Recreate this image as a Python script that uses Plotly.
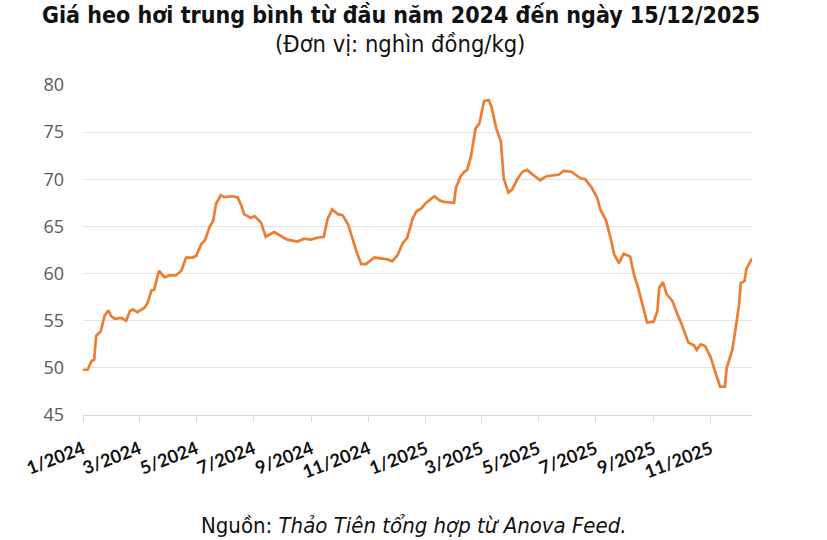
import plotly.graph_objects as go

dates = [
    "2024-01-01", "2024-01-06", "2024-01-10", "2024-01-13", "2024-01-15", "2024-01-20",
    "2024-01-24", "2024-01-28", "2024-01-31", "2024-02-04", "2024-02-11", "2024-02-16",
    "2024-02-20", "2024-02-23", "2024-02-28", "2024-03-07", "2024-03-10", "2024-03-14",
    "2024-03-17", "2024-03-22", "2024-03-28", "2024-04-02", "2024-04-09", "2024-04-15",
    "2024-04-20", "2024-04-27", "2024-05-01", "2024-05-06", "2024-05-10", "2024-05-15",
    "2024-05-19", "2024-05-22", "2024-05-27", "2024-05-31", "2024-06-07", "2024-06-14",
    "2024-06-18", "2024-06-21", "2024-06-28", "2024-07-02", "2024-07-09", "2024-07-14",
    "2024-07-23", "2024-07-30", "2024-08-06", "2024-08-17", "2024-08-24", "2024-08-31",
    "2024-09-07", "2024-09-14", "2024-09-18", "2024-09-23", "2024-09-29", "2024-10-04",
    "2024-10-10", "2024-10-15", "2024-10-19", "2024-10-24", "2024-10-29", "2024-11-07",
    "2024-11-14", "2024-11-21", "2024-11-26", "2024-12-02", "2024-12-07", "2024-12-12",
    "2024-12-18", "2024-12-22", "2024-12-27", "2025-01-01", "2025-01-10", "2025-01-15",
    "2025-01-20", "2025-01-31", "2025-02-02", "2025-02-07", "2025-02-11", "2025-02-14",
    "2025-02-18", "2025-02-23", "2025-02-27", "2025-03-04", "2025-03-09", "2025-03-12",
    "2025-03-17", "2025-03-22", "2025-03-25", "2025-03-30", "2025-04-03", "2025-04-09",
    "2025-04-14", "2025-04-19", "2025-04-25", "2025-05-03", "2025-05-09", "2025-05-23",
    "2025-05-28", "2025-06-05", "2025-06-15", "2025-06-20", "2025-06-27", "2025-07-03",
    "2025-07-06", "2025-07-12", "2025-07-17", "2025-07-21", "2025-07-26", "2025-07-31",
    "2025-08-07", "2025-08-11", "2025-08-16", "2025-08-21", "2025-08-25", "2025-09-01",
    "2025-09-05", "2025-09-07", "2025-09-11", "2025-09-15", "2025-09-21", "2025-09-26",
    "2025-10-01", "2025-10-08", "2025-10-14", "2025-10-17", "2025-10-21", "2025-10-26",
    "2025-11-01", "2025-11-06", "2025-11-11", "2025-11-16", "2025-11-18", "2025-11-24",
    "2025-11-27", "2025-12-01", "2025-12-03", "2025-12-07", "2025-12-09", "2025-12-15",
]

prices = [
    49.8, 49.8, 50.7, 50.9, 53.4, 53.9,
    55.5, 56.1, 55.5, 55.2, 55.3, 55.0,
    56.0, 56.2, 55.9, 56.4, 56.9, 58.2,
    58.3, 60.3, 59.6, 59.8, 59.8, 60.3,
    61.7, 61.7, 61.9, 63.1, 63.5, 64.9,
    65.6, 67.4, 68.3, 68.1, 68.2, 68.1,
    67.2, 66.3, 65.9, 66.1, 65.4, 63.9,
    64.4, 64.0, 63.6, 63.4, 63.7, 63.6,
    63.8, 63.9, 65.8, 66.8, 66.3, 66.2,
    65.2, 63.6, 62.3, 61.0, 61.0, 61.7,
    61.6, 61.5, 61.3, 62.0, 63.2, 63.8,
    65.9, 66.6, 66.9, 67.5, 68.2, 67.8,
    67.6, 67.5, 69.1, 70.3, 70.8, 71.0,
    72.4, 75.4, 75.9, 78.3, 78.4, 77.7,
    75.4, 74.0, 70.1, 68.6, 68.9, 70.1,
    70.8, 71.0, 70.5, 69.9, 70.3, 70.5,
    70.9, 70.8, 70.1, 70.0, 69.1, 68.0,
    66.8, 65.7, 63.8, 62.0, 61.1, 62.1,
    61.8, 59.9, 58.3, 56.4, 54.8, 54.9,
    56.0, 58.5, 59.1, 57.8, 57.1, 55.8,
    54.6, 52.7, 52.4, 51.9, 52.5, 52.3,
    51.1, 49.5, 48.0, 48.0, 50.0, 51.9,
    53.7, 56.5, 59.0, 59.2, 60.5, 61.6,
]

tick_dates = [
    "2024-01-01", "2024-03-01", "2024-05-01", "2024-07-01", "2024-09-01", "2024-11-01",
    "2025-01-01", "2025-03-01", "2025-05-01", "2025-07-01", "2025-09-01", "2025-11-01",
]
tick_labels = [
    "1/2024", "3/2024", "5/2024", "7/2024", "9/2024", "11/2024",
    "1/2025", "3/2025", "5/2025", "7/2025", "9/2025", "11/2025",
]
y_ticks = [45, 50, 55, 60, 65, 70, 75, 80]

title_text = "Giá heo hơi trung bình từ đầu năm 2024 đến ngày 15/12/2025"
subtitle_text = "(Đơn vị: nghìn đồng/kg)"
source_text = "Nguồn: <i>Thảo Tiên tổng hợp từ Anova Feed.</i>"

W, H = 827, 540
PL, PT, PW, PH = 82.7, 85, 669, 330

def px_x(x):
    return (x - PL) / PW

def px_y(y):
    return (PT + PH - y) / PH

fig = go.Figure()
fig.add_trace(go.Scatter(
    x=dates, y=prices, mode="lines",
    line=dict(color="#ED7D31", width=2.7),
    hoverinfo="skip", showlegend=False,
))

cond = "DejaVu Sans Condensed, DejaVu Sans, sans-serif"

fig.update_layout(
    width=W, height=H,
    margin=dict(l=PL, r=W - PL - PW, t=PT, b=H - PT - PH, autoexpand=False),
    paper_bgcolor="white", plot_bgcolor="white",
    showlegend=False,
    xaxis=dict(
        type="date",
        range=["2024-01-01", "2025-12-15"],
        tickmode="array", tickvals=tick_dates, ticktext=tick_labels,
        tickangle=-21,
        tickfont=dict(family="Lato, Liberation Sans, sans-serif", size=18, color="#111111", weight="bold"),
        showgrid=False, zeroline=False,
        showline=True, linecolor="#d9d9d9", linewidth=1,
        ticks="outside", ticklen=6, tickcolor="#d9d9d9", tickwidth=1,
        ticklabelstandoff=10,
    ),
    yaxis=dict(
        range=[45, 80],
        tickmode="array", tickvals=y_ticks,
        tickfont=dict(family="Open Sans, sans-serif", size=18, color="#595959"),
        showgrid=True, gridcolor="#e3e3e3", gridwidth=1.2,
        zeroline=False, showline=False, ticks="",
        ticklabelstandoff=18,
    ),
    annotations=[
        dict(text="<b>" + title_text + "</b>", xref="paper", yref="paper",
             x=px_x(401), y=px_y(15), xanchor="center", yanchor="middle", showarrow=False,
             font=dict(family=cond, size=23, color="#111111")),
        dict(text=subtitle_text, xref="paper", yref="paper",
             x=px_x(400), y=px_y(44), xanchor="center", yanchor="middle", showarrow=False,
             font=dict(family=cond, size=23.5, color="#111111")),
        dict(text=source_text, xref="paper", yref="paper",
             x=px_x(414), y=px_y(525), xanchor="center", yanchor="middle", showarrow=False,
             font=dict(family=cond, size=22, color="#111111")),
    ],
)

fig.write_html("out.html", config={"displayModeBar": False},
               post_script="document.body.style.margin='0';")
